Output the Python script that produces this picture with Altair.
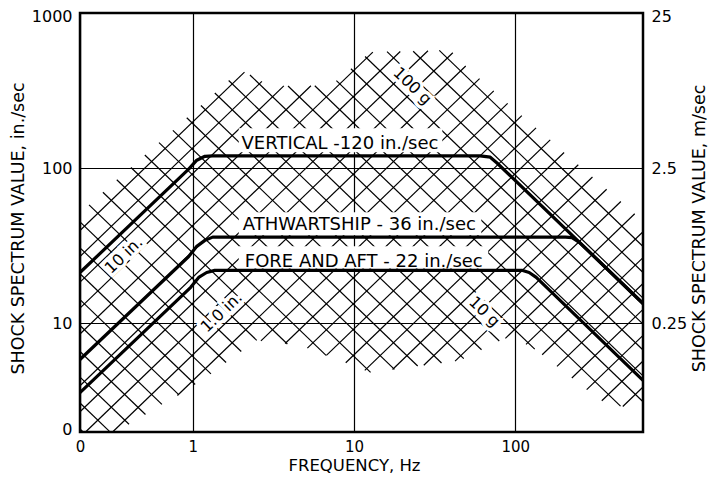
import numpy as np
import pandas as pd
import altair as alt

FONT = "DejaVu Sans"

# ---------------- axes ----------------
F_DOMAIN = [0.2, 620]
V_DOMAIN = [2, 1000]
X_TICKS = [0.2, 1, 10, 100]
X_TICK_LABELS = ["0", "1", "10", "100"]
Y_TICKS = [2, 10, 100, 1000]
Y_TICK_LABELS = ["0", "10", "100", "1000"]
Y2_TICKS = [10, 100, 1000]
Y2_TICK_LABELS = ["0.25", "2.5", "25"]

# ---------------- design curves (Hz, in./sec) ----------------
VERT_F = [0.2, 0.944, 1.06, 1.19, 1.33, 60.6, 70.0, 77.4, 620]
VERT_V = [21.3, 98.6, 112.7, 119.4, 120, 120, 117.8, 107.7, 13.45]
ATH_F = [0.2, 0.944, 1.06, 1.19, 1.33, 205, 225, 250, 620]
ATH_V = [5.86, 27.0, 31.4, 34.3, 36, 36, 35.7, 33.3, 13.45]
FA_F = [0.2, 0.972, 1.089, 1.22, 1.37, 110, 122, 135, 620]
FA_V = [3.59, 17.1, 19.8, 21.3, 22, 22, 21.3, 19.8, 4.3]

# ---------------- tripartite hatch ----------------
LINE_MANTISSA = [1.0, 1.47, 2.15, 3.16, 4.64, 6.81]
DISP_DECADES_IN = [0.0001, 0.001, 0.01, 0.1, 1, 10]
ACC_DECADES_G = [0.001, 0.01, 0.1, 1, 10, 100]
G_IN_S2 = 386.1
# extent of the hatched band
BAND_TOP_F = [0.2, 1.98, 3.04, 7.14, 12.6, 39.5, 52.5, 620]
BAND_TOP_V = [52, 430, 340, 340, 560, 577, 428, 46]
BAND_BOT_F = [0.2, 0.333, 1.2, 2.46, 4.66, 12.6, 45.6, 86.5, 124, 335, 620]
BAND_BOT_V = [1.98, 1.98, 4.42, 7.77, 7.21, 4.83, 5.77, 8.0, 7.2, 3.19, 2.67]

# ---------------- labels ----------------
CURVE_LABELS = ["VERTICAL -120 in./sec", "ATHWARTSHIP - 36 in./sec", "FORE AND AFT - 22 in./sec"]
CURVE_LABEL_F = [8.19, 10.8, 11.5]
CURVE_LABEL_V = [134, 39.8, 23.1]
MASK_F0 = [1.93, 1.93, 1.93]
MASK_F1 = [35.3, 61.6, 68.0]
MASK_V0 = [127, 37.0, 22.6]
MASK_V1 = [181, 52.0, 31.4]
LINE_LABELS = ["10 in.", "1.0 in.", "100 g", "10 g"]
LINE_LABEL_F = [0.374, 1.51, 23.0, 64.3]
LINE_LABEL_V = [27.5, 11.8, 338, 11.9]
LINE_LABEL_ANGLE = [316, 316, 44, 44]

# ---------------- build tables ----------------
logf = np.arange(np.log10(F_DOMAIN[0]), np.log10(F_DOMAIN[1]) + 1e-9, 0.002)
top = np.minimum(np.interp(logf, np.log10(BAND_TOP_F), np.log10(BAND_TOP_V)), np.log10(V_DOMAIN[1]))
bot = np.maximum(np.interp(logf, np.log10(BAND_BOT_F), np.log10(BAND_BOT_V)), np.log10(V_DOMAIN[0]))

segs = []


def add_line(logv):
    inside = (logv >= bot) & (logv <= top)
    edges = np.flatnonzero(np.diff(np.concatenate([[0], inside.astype(int), [0]])))
    for s, e in zip(edges[::2], edges[1::2]):
        if e - s >= 2:
            segs.append({"f0": 10 ** logf[s], "v0": 10 ** logv[s],
                         "f1": 10 ** logf[e - 1], "v1": 10 ** logv[e - 1]})


for dec in DISP_DECADES_IN:
    for m in LINE_MANTISSA:
        add_line(np.log10(2 * np.pi * dec * m) + logf)
for dec in ACC_DECADES_G:
    for m in LINE_MANTISSA:
        add_line(np.log10(dec * m * G_IN_S2 / (2 * np.pi)) - logf)
hatch_df = pd.DataFrame(segs)

curve_rows = []
for name, fs, vs in [("vertical", VERT_F, VERT_V), ("athwartship", ATH_F, ATH_V), ("fore-aft", FA_F, FA_V)]:
    for i, (f, v) in enumerate(zip(fs, vs)):
        curve_rows.append({"curve": name, "i": i, "f": f, "v": v})
curve_df = pd.DataFrame(curve_rows)

mask_df = pd.DataFrame({"f0": MASK_F0, "f1": MASK_F1, "v0": MASK_V0, "v1": MASK_V1})
clabel_df = pd.DataFrame({"text": CURVE_LABELS, "f": CURVE_LABEL_F, "v": CURVE_LABEL_V})
llabel_df = pd.DataFrame({"text": LINE_LABELS, "f": LINE_LABEL_F, "v": LINE_LABEL_V, "angle": LINE_LABEL_ANGLE})


def label_expr(vals, labs):
    parts = [f"abs(datum.value - {v}) < {v * 1e-6} ? '{l}'" for v, l in zip(vals, labs)]
    return " : ".join(parts) + " : ''"


xs = alt.Scale(type="log", domain=F_DOMAIN, nice=False)
ys = alt.Scale(type="log", domain=V_DOMAIN, nice=False)

common_axis = dict(ticks=False, tickSize=0, domain=False, labelOverlap=False, labelFlush=False,
                   labelFont=FONT, labelColor="black",
                   titleFont=FONT, titleFontWeight="normal", titleColor="black")
y_label_offset = {"condition": [{"test": "datum.value > 999", "value": 3},
                                {"test": "datum.value < 3", "value": -3}], "value": 0}
x_axis = alt.Axis(orient="bottom", values=X_TICKS, labelExpr=label_expr(X_TICKS, X_TICK_LABELS),
                  title="FREQUENCY, Hz", grid=True, gridColor="black", gridWidth=1.2, gridOpacity=1,
                  labelFontSize=15, labelPadding=7, titleFontSize=16.5,
                  titleX=274, titleY=38, titleBaseline="alphabetic", titleAlign="center",
                  **common_axis)
y_axis = alt.Axis(orient="left", values=Y_TICKS, labelExpr=label_expr(Y_TICKS, Y_TICK_LABELS),
                  title="SHOCK SPECTRUM VALUE, in./sec", grid=True, gridColor="black", gridWidth=1.2,
                  gridOpacity=1, labelFontSize=16, labelPadding=8, labelOffset=y_label_offset,
                  titleFontSize=17.5, titleAngle=270, titleX=-62,
                  titleY=215, titleBaseline="middle", titleAlign="center", **common_axis)
y2_axis = alt.Axis(orient="right", values=Y2_TICKS, labelExpr=label_expr(Y2_TICKS, Y2_TICK_LABELS),
                   title="SHOCK SPECTRUM VALUE, m/sec", grid=False, labelFontSize=16, labelPadding=8,
                   labelOffset=y_label_offset, titleFontSize=17.5, titleAngle=270, titleX=56, titleY=215,
                   titleBaseline="middle", titleAlign="center", **common_axis)

hatch = alt.Chart(hatch_df).mark_rule(color="black", strokeWidth=1.2).encode(
    x=alt.X("f0:Q", scale=xs, axis=x_axis),
    x2="f1:Q",
    y=alt.Y("v0:Q", scale=ys, axis=y_axis),
    y2="v1:Q",
)

masks = alt.Chart(mask_df).mark_rect(color="white").encode(
    x=alt.X("f0:Q", scale=xs, axis=x_axis),
    x2="f1:Q",
    y=alt.Y("v0:Q", scale=ys, axis=None),
    y2="v1:Q",
)

curves = alt.Chart(curve_df).mark_line(color="black", strokeWidth=3.2, strokeJoin="round").encode(
    x=alt.X("f:Q", scale=xs, axis=x_axis),
    y=alt.Y("v:Q", scale=ys, axis=y2_axis),
    detail="curve:N",
    order="i:Q",
)

clabels = alt.Chart(clabel_df).mark_text(font=FONT, fontSize=18, color="black", align="center",
                                         baseline="alphabetic").encode(
    x=alt.X("f:Q", scale=xs, axis=x_axis),
    y=alt.Y("v:Q", scale=ys, axis=None),
    text="text:N",
)

lhalo = alt.Chart(llabel_df).mark_text(font=FONT, fontSize=16, color="white", stroke="white",
                                       strokeWidth=7, align="center", baseline="middle").encode(
    x=alt.X("f:Q", scale=xs, axis=x_axis),
    y=alt.Y("v:Q", scale=ys, axis=None),
    text="text:N",
    angle=alt.Angle("angle:Q", scale=None),
)
llabels = alt.Chart(llabel_df).mark_text(font=FONT, fontSize=16, color="black", align="center",
                                         baseline="middle").encode(
    x=alt.X("f:Q", scale=xs, axis=x_axis),
    y=alt.Y("v:Q", scale=ys, axis=None),
    text="text:N",
    angle=alt.Angle("angle:Q", scale=None),
)

chart = alt.layer(hatch, masks, lhalo, curves, clabels, llabels).resolve_axis(y="independent").properties(
    width=563,
    height=419,
    autosize=alt.AutoSizeParams(type="none"),
    padding={"left": 72, "top": 5, "right": 65, "bottom": 42},
    background="white",
).configure_view(stroke="black", strokeWidth=2.5)

chart.save("out.html", embed_options={"renderer": "svg", "actions": False})
